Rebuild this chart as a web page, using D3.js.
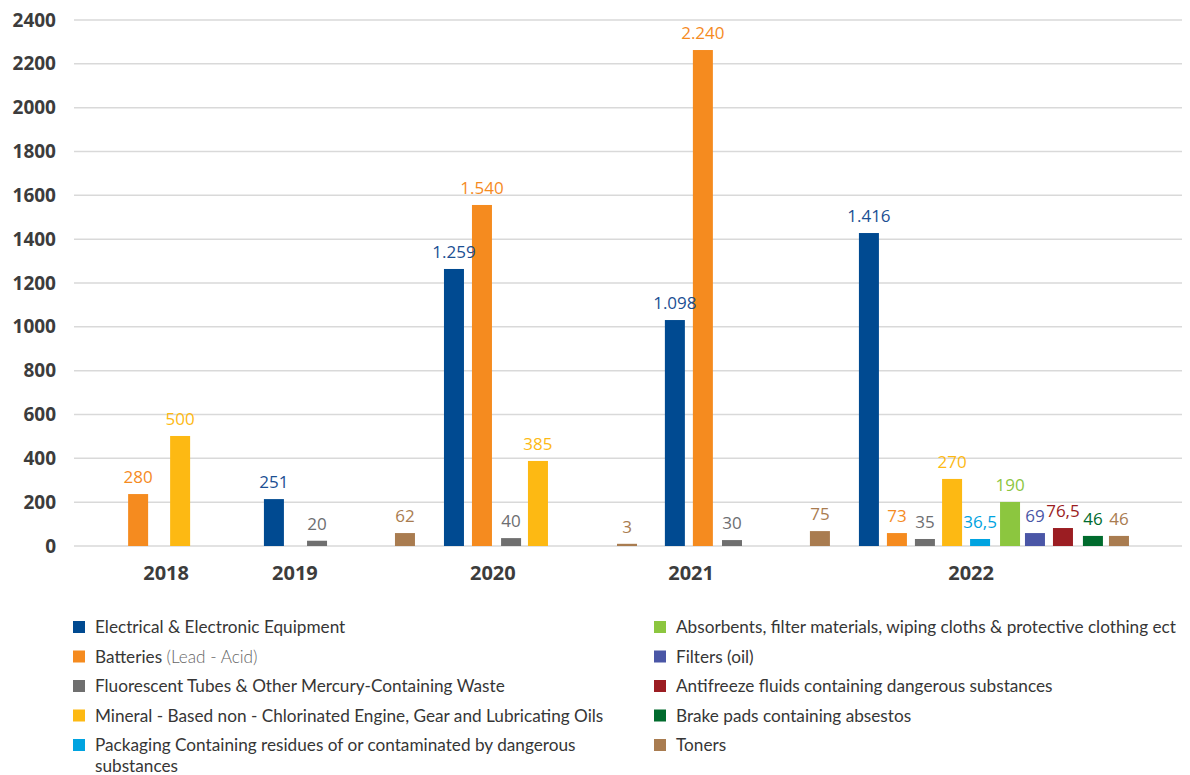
<!DOCTYPE html>
<html>
<head>
<meta charset="utf-8">
<script src="https://cdn.jsdelivr.net/npm/d3@7"></script>
<style>
  body { margin: 0; background: #fff; }
  svg { display: block; }
  .tick-label { font-family: "Open Sans", sans-serif; font-weight: 700; fill: #3c3c3c; }
  .bar-label { font-family: "Open Sans", sans-serif; font-size: 17px; }
  .legend-text { font-family: "Lato", sans-serif; font-size: 17.2px; fill: #363636; }
</style>
</head>
<body>
<div id="chart"></div>
<script>
// series (legend order) and their colours
const seriesNames = [
  "Electrical & Electronic Equipment",
  "Batteries",
  "Fluorescent Tubes & Other Mercury-Containing Waste",
  "Mineral - Based non - Chlorinated Engine, Gear and Lubricating Oils",
  "Packaging Containing residues of or contaminated by dangerous substances",
  "Absorbents, filter materials, wiping cloths & protective clothing ect",
  "Filters (oil)",
  "Antifreeze fluids containing dangerous substances",
  "Brake pads containing absestos",
  "Toners"
];
const seriesColors = ["#004a91", "#f58b1f", "#6f6f6f", "#fdb913", "#00a3e0",
                      "#8cc63f", "#4a56a6", "#9b1d22", "#006b2d", "#a97c50"];
const labelColors  = ["#1b4f93", "#f58b1f", "#6d6e71", "#fdb913", "#00a3e0",
                      "#8cc63f", "#4a56a6", "#9b1d22", "#006b2d", "#a97c50"];

// bars as they sit on the chart, left to right
// series index, drawn height, printed label, order along the axis
const barSeries = [1, 3, 0, 2, 9, 0, 1, 2, 3, 9, 0, 1, 2, 9, 0, 1, 2, 3, 4, 5, 6, 7, 8, 9];
const barValues = [237, 502, 214, 24, 59, 1264, 1556, 36, 388, 10, 1031, 2263, 27,
                   68, 1428, 59, 32, 306, 32, 201, 59, 82, 46, 46];
const barLabels = ["280", "500", "251", "20", "62", "1.259", "1.540", "40", "385", "3",
                   "1.098", "2.240", "30", "75", "1.416", "73", "35", "270", "36,5",
                   "190", "69", "76,5", "46", "46"];
const barOrder  = [2.29, 3.79, 7.14, 8.68, 11.82, 13.57, 14.57, 15.61, 16.57, 19.75,
                   21.46, 22.46, 23.5, 26.64, 28.39, 29.39, 30.39, 31.36, 32.36, 33.43,
                   34.32, 35.32, 36.39, 37.32];

// year captions under the axis
const years     = ["2018", "2019", "2020", "2021", "2022"];
const yearOrder = [3.29, 7.89, 14.96, 22.04, 32.04];

const yTicks = d3.range(0, 2401, 200);

const W = 1190, H = 775;
const svg = d3.select("#chart").append("svg")
  .attr("width", W)
  .attr("height", H);

const x = d3.scaleLinear().domain([0, 39.5]).range([74, 1180]);
const y = d3.scaleLinear().domain([0, 2400]).range([546, 20]);
const barW = 20;

// gridlines
svg.append("g")
  .selectAll("line")
  .data(yTicks)
  .join("line")
    .attr("x1", 74)
    .attr("x2", 1182)
    .attr("y1", d => y(d))
    .attr("y2", d => y(d))
    .attr("stroke", "#d9d9d9")
    .attr("stroke-width", 1.5);

// y axis labels
const yAxis = svg.append("g")
  .attr("transform", "translate(56,0)")
  .call(d3.axisLeft(y).tickValues(yTicks).tickFormat(d3.format("d")).tickSize(0).tickPadding(0));
yAxis.select(".domain").remove();
yAxis.selectAll("text")
  .attr("class", "tick-label")
  .style("font-size", "19px");

// bars
const bars = barValues.map((v, i) => ({
  v: v, s: barSeries[i], label: barLabels[i], pos: barOrder[i]
}));

svg.append("g")
  .selectAll("rect")
  .data(bars)
  .join("rect")
    .attr("x", d => x(d.pos) - barW / 2)
    .attr("y", d => y(d.v))
    .attr("width", barW)
    .attr("height", d => y(0) - y(d.v))
    .attr("fill", d => seriesColors[d.s]);

svg.append("g")
  .selectAll("text")
  .data(bars)
  .join("text")
    .attr("class", "bar-label")
    .attr("x", d => x(d.pos))
    .attr("y", d => y(d.v) - 11)
    .attr("text-anchor", "middle")
    .attr("fill", d => labelColors[d.s])
    .text(d => d.label);

// year labels
svg.append("g")
  .selectAll("text")
  .data(years)
  .join("text")
    .attr("class", "tick-label")
    .attr("x", (d, i) => x(yearOrder[i]))
    .attr("y", 580)
    .attr("text-anchor", "middle")
    .style("font-size", "20px")
    .text(d => d);

// legend, two columns of five
const rowY = d3.scalePoint().domain(d3.range(5)).range([627, 745]);
const legend = svg.append("g");
seriesNames.forEach((name, i) => {
  const col = i < 5 ? 0 : 1;
  const row = i % 5;
  const sx = col === 0 ? 73 : 654;
  const g = legend.append("g")
    .attr("transform", `translate(${sx},${rowY(row)})`);
  g.append("rect")
    .attr("x", 0).attr("y", -6)
    .attr("width", 12).attr("height", 12)
    .attr("fill", seriesColors[i]);
  const t = g.append("text")
    .attr("class", "legend-text")
    .attr("x", 22)
    .attr("y", 6);
  if (i === 1) {
    t.append("tspan").text("Batteries ");
    t.append("tspan").attr("fill", "#666").style("font-weight", 300).text("(Lead - Acid)");
  } else if (i === 4) {
    t.append("tspan").text("Packaging Containing residues of or contaminated by dangerous");
    t.append("tspan").attr("x", 22).attr("dy", 21).text("substances");
  } else {
    t.text(name);
  }
});
</script>
</body>
</html>
